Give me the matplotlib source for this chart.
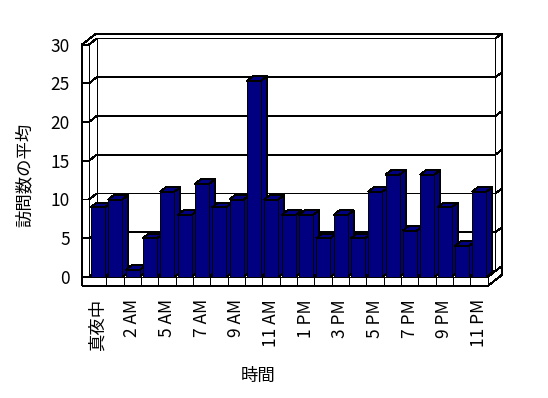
import numpy as np
import matplotlib
matplotlib.use('Agg')
import matplotlib.pyplot as plt
from matplotlib.patches import Polygon

plt.rcParams['font.family'] = ['Noto Sans CJK JP', 'DejaVu Sans']

# data
hours = ['真夜中', '1 AM', '2 AM', '4 AM', '5 AM', '6 AM', '7 AM', '8 AM',
         '9 AM', '10 AM', '11 AM', '正午', '1 PM', '2 PM', '3 PM', '4 PM',
         '5 PM', '6 PM', '7 PM', '8 PM', '9 PM', '10 PM', '11 PM']
visits = [9, 10, 0.9, 5, 11, 8, 12, 9, 10, 25.3, 10, 8, 8, 5, 8, 5,
          11, 13.2, 6, 13.2, 9, 4, 11]
yticks = [0, 5, 10, 15, 20, 25, 30]

# 3D look (data units): shift per unit depth, wall/floor thickness
DX, DY = 0.444, 0.774
Z_IN, Z_OUT = 1.0, 1.8
LW = 0.40
FT = 1.16
BAR_X0, BAR_W, BAR_D = 0.11, 0.81, 0.78
NAVY = '#000080'
PX = 0.72  # one pixel line
FS = 12.5


def P(x, y, z):
    return (x + DX * z, y + DY * z)


fig = plt.figure(figsize=(5.48, 3.98), dpi=100)
ax = fig.add_axes([89 / 548, 121 / 398, 398.7 / 548, 232.5 / 398])
n = len(visits)
ax.set_xlim(0, n)
ax.set_ylim(0, yticks[-1])
for s in ax.spines.values():
    s.set_visible(False)
ax.patch.set_visible(False)


def line(*pts, z=1):
    xs = [p[0] for p in pts]
    ys = [p[1] for p in pts]
    ax.plot(xs, ys, color='k', lw=PX, clip_on=False, zorder=z,
            antialiased=False, solid_capstyle='butt')


# gridlines: front tick -> left wall -> back wall -> right side of wall
for v in yticks:
    line(P(-LW, v, 0), P(0, v, 0), P(0, v, Z_IN), P(n, v, Z_IN), P(n, v, Z_OUT))

# walls / floor outline
top = yticks[-1]
line(P(-LW, -FT, 0), P(-LW, top, 0), P(-LW, top, Z_OUT), P(n, top, Z_OUT),
     P(n, -FT, Z_OUT), P(n, -FT, 0), P(-LW, -FT, 0), z=5)
line(P(0, 0, 0), P(0, top, 0), z=5)
line(P(-LW, top, 0), P(0, top, 0), z=5)
line(P(0, 0, Z_IN), P(0, top, Z_IN))
line(P(n, 0, Z_IN), P(n, top, Z_IN))
line(P(-LW, 0, 0), P(n, 0, 0), P(n, -FT, 0), z=5)
line(P(n, 0, 0), P(n, 0, Z_IN), z=5)
for i in range(1, n):
    line(P(i, -FT, 0), P(i, 0, 0), z=5)

# bars: side + top faces, then the front faces from ax.bar
idx = np.arange(n)
for i, v in zip(idx, visits):
    x0 = i + BAR_X0
    x1 = x0 + BAR_W
    side = [P(x1, 0, 0), P(x1, 0, BAR_D), P(x1, v, BAR_D), P(x1, v, 0)]
    roof = [P(x0, v, 0), P(x1, v, 0), P(x1, v, BAR_D), P(x0, v, BAR_D)]
    ax.add_patch(Polygon(side, closed=True, facecolor=NAVY, edgecolor='k',
                         lw=PX, zorder=2, clip_on=False, antialiased=False))
    ax.add_patch(Polygon(roof, closed=True, facecolor=NAVY, edgecolor='k',
                         lw=PX, zorder=3, clip_on=False, antialiased=False))
ax.bar(idx + BAR_X0, visits, width=BAR_W, align='edge', color=NAVY,
       edgecolor='k', linewidth=PX, zorder=4, clip_on=False, antialiased=False)

# axes text
ax.set_yticks(yticks)
ax.set_yticklabels([str(t) for t in yticks], fontsize=FS)
ax.tick_params(axis='y', length=0, pad=13.7)
ax.set_xticks(idx[::2] + 0.5)
ax.set_xticklabels(hours[::2], rotation=90, fontsize=FS)
ax.tick_params(axis='x', length=0, pad=15.8)

ax.set_ylabel('訪問数の平均', fontsize=FS, va='center')
ax.yaxis.set_label_coords(-0.1605, 0.4387)
ax.set_xlabel('時間', fontsize=FS, va='center')
ax.xaxis.set_label_coords(0.4239, -0.4237)

fig.savefig('out.png', dpi=100, facecolor='white')
